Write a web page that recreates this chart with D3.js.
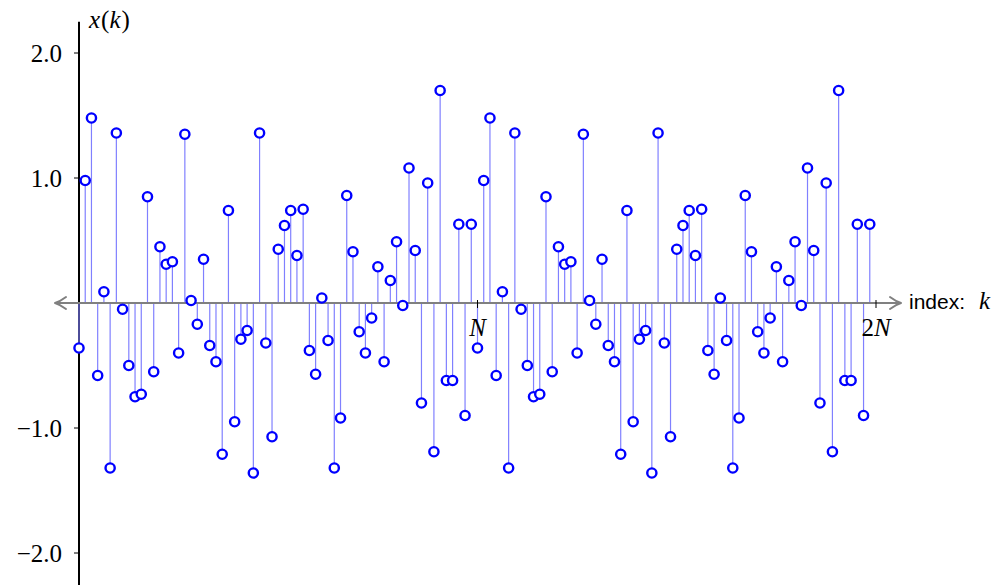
<!DOCTYPE html>
<html>
<head>
<meta charset="utf-8">
<script src="https://cdn.jsdelivr.net/npm/d3@7"></script>
<style>
  html, body { margin: 0; padding: 0; background: #fff; }
  svg { display: block; }
</style>
</head>
<body>
<svg id="chart" width="1000" height="585"></svg>
<script>
// ---- data ----
const values = [
  -0.36, 0.98, 1.48, -0.58, 0.09, -1.32, 1.36, -0.05,
  -0.50, -0.75, -0.73, 0.85, -0.55, 0.45, 0.31, 0.33,
  -0.40, 1.35, 0.02, -0.17, 0.35, -0.34, -0.47, -1.21,
  0.74, -0.95, -0.29, -0.22, -1.36, 1.36, -0.32, -1.07,
  0.43, 0.62, 0.74, 0.38, 0.75, -0.38, -0.57, 0.04,
  -0.30, -1.32, -0.92, 0.86, 0.41, -0.23, -0.40, -0.12,
  0.29, -0.47, 0.18, 0.49, -0.02, 1.08, 0.42, -0.80,
  0.96, -1.19, 1.70, -0.62, -0.62, 0.63, -0.90, 0.63,
  -0.36, 0.98, 1.48, -0.58, 0.09, -1.32, 1.36, -0.05,
  -0.50, -0.75, -0.73, 0.85, -0.55, 0.45, 0.31, 0.33,
  -0.40, 1.35, 0.02, -0.17, 0.35, -0.34, -0.47, -1.21,
  0.74, -0.95, -0.29, -0.22, -1.36, 1.36, -0.32, -1.07,
  0.43, 0.62, 0.74, 0.38, 0.75, -0.38, -0.57, 0.04,
  -0.30, -1.32, -0.92, 0.86, 0.41, -0.23, -0.40, -0.12,
  0.29, -0.47, 0.18, 0.49, -0.02, 1.08, 0.42, -0.80,
  0.96, -1.19, 1.70, -0.62, -0.62, 0.63, -0.90, 0.63
];
const yTicks = [-2, -1, 1, 2];
const yTickLabels = ["\u22122.0", "\u22121.0", "1.0", "2.0"];
const xTicks = [64, 128];
const xTickLabels = [["", "N"], ["2", "N"]];

// ---- drawing ----
const svg = d3.select("#chart");
const x = d3.scaleLinear().domain([0, 128]).range([79, 876]);
const y = d3.scaleLinear().domain([-2.25, 2.25]).range([584.25, 21.75]);
const y0 = y(0);
const serif = "'Liberation Serif', 'Times New Roman', serif";

// y axis
svg.append("line")
  .attr("x1", x(0)).attr("x2", x(0))
  .attr("y1", y(2.25)).attr("y2", 585)
  .attr("stroke", "#000").attr("stroke-width", 2);

const yt = svg.append("g");
yt.selectAll("line").data(yTicks).join("line")
  .attr("x1", x(0) - 5).attr("x2", x(0))
  .attr("y1", d => y(d)).attr("y2", d => y(d))
  .attr("stroke", "#000").attr("stroke-width", 1);
yt.selectAll("text").data(yTicks).join("text")
  .attr("x", 62).attr("y", d => y(d) + 8.5)
  .attr("text-anchor", "end")
  .attr("font-family", serif).attr("font-size", 25)
  .attr("fill", "#000")
  .text((d, i) => yTickLabels[i]);

// y label
const yl = svg.append("text")
  .attr("x", 89).attr("y", 28)
  .attr("font-family", serif).attr("font-size", 25).attr("fill", "#000");
yl.append("tspan").attr("font-style", "italic").text("x");
yl.append("tspan").attr("dx", 1).text("(");
yl.append("tspan").attr("font-style", "italic").text("k");
yl.append("tspan").attr("dx", 1).text(")");

// stems
svg.append("g").selectAll("line").data(values).join("line")
  .attr("x1", (d, i) => x(i)).attr("x2", (d, i) => x(i))
  .attr("y1", y0).attr("y2", d => y(d))
  .attr("stroke", "#8080ff").attr("stroke-width", 1.2);

// x axis (gray, arrows on both ends)
const axisColor = "#808080";
svg.append("line")
  .attr("x1", 56).attr("x2", 900)
  .attr("y1", y0).attr("y2", y0)
  .attr("stroke", axisColor).attr("stroke-width", 2);
const arrow = (tx, dir) => {
  const p = d3.path();
  p.moveTo(tx - dir * 11, y0 - 6);
  p.quadraticCurveTo(tx - dir * 5, y0 - 1.5, tx, y0);
  p.quadraticCurveTo(tx - dir * 5, y0 + 1.5, tx - dir * 11, y0 + 6);
  return p.toString();
};
svg.append("path").attr("d", arrow(901, 1))
  .attr("fill", "none").attr("stroke", axisColor).attr("stroke-width", 2)
  .attr("stroke-linecap", "round").attr("stroke-linejoin", "round");
svg.append("path").attr("d", arrow(55, -1))
  .attr("fill", "none").attr("stroke", axisColor).attr("stroke-width", 2)
  .attr("stroke-linecap", "round").attr("stroke-linejoin", "round");

// x ticks
const xt = svg.append("g");
xt.selectAll("line").data(xTicks).join("line")
  .attr("x1", d => x(d)).attr("x2", d => x(d))
  .attr("y1", y0 - 3).attr("y2", y0 + 5)
  .attr("stroke", "#000").attr("stroke-width", 1);
const xtl = xt.selectAll("text").data(xTicks).join("text")
  .attr("x", d => x(d)).attr("y", y0 + 33)
  .attr("text-anchor", "middle")
  .attr("font-family", serif).attr("font-size", 25).attr("fill", "#000");
xtl.each(function(d, i) {
  const t = d3.select(this);
  if (xTickLabels[i][0]) t.append("tspan").text(xTickLabels[i][0]);
  t.append("tspan").attr("font-style", "italic").text(xTickLabels[i][1]);
});

// x label
const xl = svg.append("text")
  .attr("x", 909).attr("y", y0 + 6)
  .attr("font-family", "'Liberation Sans', Arial, sans-serif")
  .attr("font-size", 21).attr("fill", "#000");
xl.append("tspan").text("index:");
xl.append("tspan").attr("dx", 14).attr("font-family", serif)
  .attr("font-style", "italic").attr("font-size", 25).text("k");

// markers
svg.append("g").selectAll("circle").data(values).join("circle")
  .attr("cx", (d, i) => x(i)).attr("cy", d => y(d))
  .attr("r", 4.6)
  .attr("fill", "#fff").attr("stroke", "#0000ff").attr("stroke-width", 2.4);
</script>
</body>
</html>
